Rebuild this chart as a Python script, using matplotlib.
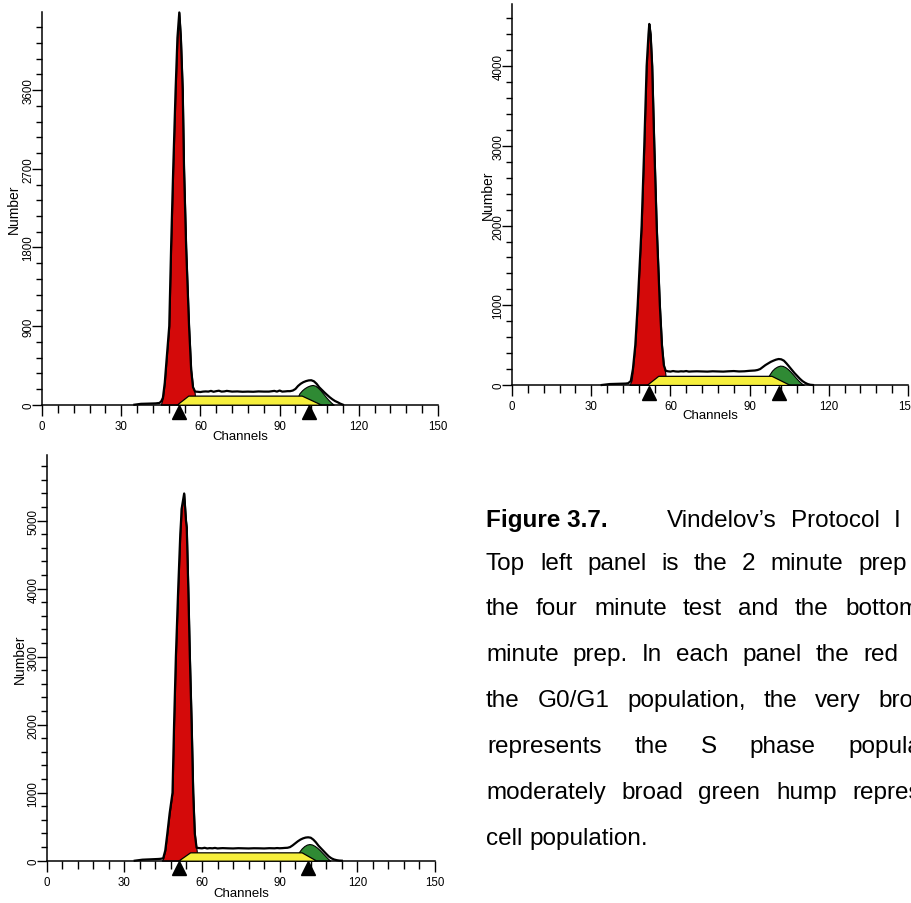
import matplotlib.pyplot as plt
from matplotlib.ticker import MultipleLocator, FixedLocator
from matplotlib.transforms import ScaledTranslation

plt.rcParams['font.family'] = ['Liberation Sans', 'DejaVu Sans']

# ---- data (channel, count) ----
x_ticks = [0, 30, 60, 90, 120, 150]

# top left: 2 minute prep
p1_ch = [35, 37.5, 40, 43, 44.5, 45.2, 45.8, 46.5, 47.2, 48.2,
         48.9, 49.7, 50.6, 51.3, 52, 52.6, 53.3, 53.8, 54.6, 55.7,
         56.5, 57.2, 58, 59, 60, 61, 62, 63, 64, 65,
         66, 67, 68, 69, 70, 72, 74, 76, 78, 80,
         82, 84, 86, 88, 89, 90, 91, 92, 93, 94,
         95, 96, 97, 98, 99, 100, 101, 102, 103, 104,
         105, 106, 107, 108, 109, 110, 111, 112, 113, 114]
p1_total = [0, 10, 12, 15, 20, 40, 80, 250, 520, 900,
            1800, 2700, 3600, 4200, 4490, 4200, 3600, 2700, 1800, 900,
            400, 200, 150, 148, 145, 150, 152, 150, 158, 148,
            155, 160, 150, 152, 158, 150, 152, 148, 150, 148,
            152, 150, 150, 158, 150, 162, 150, 152, 155, 155,
            162, 180, 215, 240, 258, 270, 278, 280, 268, 240,
            200, 170, 140, 112, 85, 62, 42, 28, 12, 0]
p1_g1_ch = [45.0, 45.8, 46.5, 47.2, 48.2, 48.9, 49.7, 50.6, 51.3, 52,
            52.6, 53.3, 53.8, 54.6, 55.7, 56.5, 57.2, 57.8, 58.3]
p1_g1 = [0, 80, 250, 520, 900, 1800, 2700, 3600, 4200, 4490,
         4200, 3600, 2700, 1800, 900, 400, 200, 140, 0]
p1_s_ch = [51, 55.4, 98.4, 105.8]
p1_s = [0, 104, 104, 0]
p1_g2_ch = [96.5, 97.5, 98.5, 99.5, 100.5, 101.5, 102.5, 103.5, 104.5, 105.5,
            106.5, 107.5, 108.5, 109.5, 110.5]
p1_g2 = [60, 130, 165, 190, 208, 220, 226, 218, 195, 165,
         128, 90, 55, 25, 0]
p1_marks = [52, 101]
p1_yticks = [0, 900, 1800, 2700, 3600]

# top right: 4 minute test
p2_ch = [34, 37, 40, 43, 44, 45, 45.8, 46.7, 47.6, 49.1,
         50.1, 51, 51.7, 52, 52.5, 53.1, 53.9, 54.8, 56, 56.8,
         57.5, 58.2, 59, 60, 61, 62, 63, 64, 65, 66,
         67, 68, 70, 72, 74, 76, 78, 80, 82, 84,
         86, 88, 89, 90, 91, 92, 93, 94, 95, 96,
         97, 98, 99, 100, 101, 102, 103, 104, 105, 106,
         107, 108, 109, 110, 111, 112, 113, 114]
p2_total = [0, 12, 15, 18, 22, 50, 200, 500, 1000, 2000,
            3000, 4000, 4400, 4530, 4400, 4000, 3000, 2000, 1000, 500,
            250, 180, 172, 168, 175, 170, 168, 172, 170, 175,
            168, 170, 172, 170, 168, 172, 170, 168, 172, 175,
            170, 172, 175, 178, 180, 182, 188, 200, 225, 250,
            270, 290, 305, 318, 326, 322, 305, 270, 230, 190,
            150, 115, 80, 50, 28, 12, 3, 0]
p2_g1_ch = [44.5, 45.3, 45.8, 46.7, 47.6, 49.1, 50.1, 51, 51.7, 52,
            52.5, 53.1, 53.9, 54.8, 56, 56.8, 57.5, 58, 58.5]
p2_g1 = [0, 60, 200, 500, 1000, 2000, 3000, 4000, 4400, 4530,
         4400, 4000, 3000, 2000, 1000, 500, 250, 165, 0]
p2_s_ch = [51, 55.4, 98.3, 105.3]
p2_s = [0, 115, 115, 0]
p2_g2_ch = [96.5, 97.5, 98.5, 99.5, 100.5, 101.5, 102.5, 103.5, 104.5, 105.5,
            106.5, 107.5, 108.5, 109.5, 110.5]
p2_g2 = [70, 130, 180, 212, 232, 243, 240, 225, 200, 168,
         130, 92, 56, 25, 0]
p2_marks = [52, 101]
p2_yticks = [0, 1000, 2000, 3000, 4000]

# bottom left: 6 minute prep
p3_ch = [34, 37, 40, 43, 44, 45, 45.8, 46.6, 47.5, 48.6,
         49.2, 49.9, 50.8, 51.6, 51.9, 52.1, 53.1, 53.8, 54.1, 54.7,
         55.3, 56, 56.6, 57.2, 57.9, 59, 60, 61, 62, 63,
         64, 65, 66, 67, 68, 70, 72, 74, 76, 78,
         80, 82, 84, 86, 88, 89, 90, 91, 92, 93,
         94, 95, 96, 97, 98, 99, 100, 101, 102, 103,
         104, 105, 106, 107, 108, 109, 110, 111, 112, 113, 114]
p3_total = [0, 15, 20, 25, 28, 35, 150, 400, 700, 1000,
            2000, 3000, 4000, 4800, 5000, 5170, 5400, 5000, 4900, 4000,
            3000, 2000, 1000, 400, 190, 185, 182, 190, 180, 185,
            182, 188, 180, 183, 185, 182, 180, 184, 182, 180,
            183, 182, 180, 184, 182, 186, 183, 185, 188, 190,
            200, 225, 255, 285, 310, 328, 340, 344, 338, 310,
            270, 220, 180, 140, 100, 62, 35, 18, 8, 2, 0]
p3_g1_ch = [44.5, 45, 45.8, 46.6, 47.5, 48.6, 49.2, 49.9, 50.8, 51.6,
            51.9, 52.1, 53.1, 53.8, 54.1, 54.7, 55.3, 56, 56.6, 57.2,
            57.9, 58.4]
p3_g1 = [0, 35, 150, 400, 700, 1000, 2000, 3000, 4000, 4800,
         5000, 5170, 5400, 5000, 4900, 4000, 3000, 2000, 1000, 400,
         160, 0]
p3_s_ch = [50.8, 55.4, 98.5, 104.2]
p3_s = [0, 123, 123, 0]
p3_g2_ch = [96.5, 97.5, 98.5, 99.5, 100.5, 101.5, 102.5, 103.5, 104.5, 105.5,
            106.5, 107.5, 108.5, 109.5]
p3_g2 = [70, 130, 180, 215, 237, 245, 238, 218, 190, 155,
         115, 75, 35, 0]
p3_marks = [51, 101]
p3_yticks = [0, 1000, 2000, 3000, 4000, 5000]

# caption (justified text, cut by the right edge of the page image)
caption_groups = [
    ["Figure 3.7."],
    ["Vindelov’s", "Protocol", "I"],
    ["Top", "left", "panel", "is", "the", "2", "minute", "prep"],
    ["the", "four", "minute", "test", "and", "the", "bottom"],
    ["minute", "prep.", "In", "each", "panel", "the", "red"],
    ["the", "G0/G1", "population,", "the", "very", "broad"],
    ["represents", "the", "S", "phase", "population"],
    ["moderately", "broad", "green", "hump", "represents"],
    ["cell", "population."],
]

RED = '#d40a0a'
YELLOW = '#f6ef3c'
GREEN = '#2f8a34'

W, H = 912, 904
fig = plt.figure(figsize=(W / 100, H / 100), dpi=100)


def make_axes(x0, x150, y0, ytop):
    return fig.add_axes([x0 / W, (H - y0) / H, (x150 - x0) / W, (y0 - ytop) / H])


def draw_panel(ax, ch, total, g1_ch, g1, s_ch, s, g2_ch, g2, marks,
               ymax, yticks, yminor, ylab_x, xlab_y):
    ax.fill_between(g1_ch, g1, facecolor=RED, edgecolor='black', linewidth=0.8, zorder=2)
    ax.fill_between(g2_ch, g2, facecolor=GREEN, edgecolor='black', linewidth=0.8, zorder=2)
    ax.fill_between(s_ch, s, facecolor=YELLOW, edgecolor='black', linewidth=0.9, zorder=3)
    ax.plot(ch, total, color='black', lw=1.6, solid_joinstyle='round', zorder=4, clip_on=False)
    off = ScaledTranslation(0, -0.075, fig.dpi_scale_trans)
    ax.plot(marks, [0] * len(marks), ls='none', marker='^', ms=9.5, color='black',
            transform=ax.transData + off, clip_on=False, zorder=6)

    ax.set_xlim(0, 150)
    ax.set_ylim(0, ymax)
    for side in ('top', 'right'):
        ax.spines[side].set_visible(False)
    for side in ('left', 'bottom'):
        ax.spines[side].set_linewidth(1.1)
    ax.xaxis.set_major_locator(FixedLocator(x_ticks))
    ax.xaxis.set_minor_locator(MultipleLocator(6))
    ax.yaxis.set_major_locator(FixedLocator(yticks))
    ax.yaxis.set_minor_locator(MultipleLocator(yminor))
    ax.tick_params(axis='x', which='major', length=8, width=1.0, pad=2.8, labelsize=8.3)
    ax.tick_params(axis='x', which='minor', length=5.5, width=1.0)
    ax.tick_params(axis='y', which='major', length=7.5, width=1.0, pad=-2.2, labelsize=8.3,
                   labelrotation=90)
    ax.tick_params(axis='y', which='minor', length=4, width=1.0)
    plt.setp(ax.get_yticklabels(), va='center')

    ax.set_xlabel('Channels', fontsize=9.5)
    ax.set_ylabel('Number', fontsize=10)
    ax.xaxis.set_label_coords(0.5, xlab_y)
    ax.yaxis.set_label_coords(ylab_x, 0.5)


ax1 = make_axes(42, 438, 405.7, 13)
draw_panel(ax1, p1_ch, p1_total, p1_g1_ch, p1_g1, p1_s_ch, p1_s, p1_g2_ch, p1_g2,
           p1_marks, 4495, p1_yticks, 180, -0.054, -0.064)

ax2 = make_axes(512, 908, 386, 5)
draw_panel(ax2, p2_ch, p2_total, p2_g1_ch, p2_g1, p2_s_ch, p2_s, p2_g2_ch, p2_g2,
           p2_marks, 4780, p2_yticks, 200, -0.042, -0.064)

ax3 = make_axes(46.7, 435, 861.7, 456.4)
draw_panel(ax3, p3_ch, p3_total, p3_g1_ch, p3_g1, p3_s_ch, p3_s, p3_g2_ch, p3_g2,
           p3_marks, 5960, p3_yticks, 200, -0.050, -0.066)

# caption layout: start x, x of the last word (None = plain spacing), baseline y
cap_start = [486, 667, 486, 486, 486, 486, 487, 486, 486]
cap_last = [None, 894, 858, 845, 863, 878, 848, 852, None]
cap_y = [527, 527, 570, 615, 661, 707, 753, 799, 845]
renderer = fig.canvas.get_renderer()
for words, x0, xl, yb in zip(caption_groups, cap_start, cap_last, cap_y):
    weight = 'bold' if words[0] == "Figure 3.7." else 'normal'
    texts = [fig.text(0, 1 - yb / H, w, fontsize=17.5, va='baseline', ha='left',
                      fontweight=weight) for w in words]
    widths = [t.get_window_extent(renderer).width for t in texts]
    if xl is None or len(words) == 1:
        gap = 6.8
    else:
        gap = (xl - x0 - sum(widths[:-1])) / (len(words) - 1)
    x = x0
    for t, wd in zip(texts, widths):
        t.set_x(x / W)
        x += wd + gap

fig.savefig('out.png', dpi=100)
